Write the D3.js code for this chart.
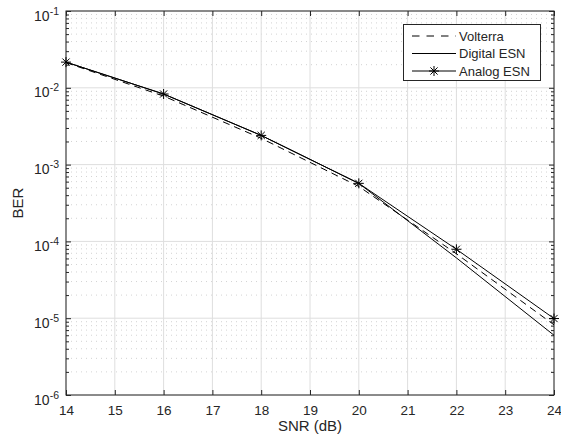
<!DOCTYPE html>
<html>
<head>
<meta charset="utf-8">
<script src="https://cdn.jsdelivr.net/npm/d3@7"></script>
<style>
  body { margin: 0; background: #fff; }
  text { font-family: "Liberation Sans", Arial, sans-serif; fill: #262626; }
</style>
</head>
<body>
<div id="app"></div>
<script>
const snr = [14, 16, 18, 20, 22, 24];
const volterra = [0.0213, 0.0078, 0.0022, 0.00052, 0.000069, 0.0000082];
const digitalEsn = [0.0216, 0.0083, 0.0024, 0.00057, 0.000061, 0.000006];
const analogEsn = [0.0216, 0.0083, 0.0024, 0.00057, 0.000079, 0.0000099];
const xTicks = [14, 15, 16, 17, 18, 19, 20, 21, 22, 23, 24];
const yExponents = [-1, -2, -3, -4, -5, -6];
const seriesNames = ["Volterra", "Digital ESN", "Analog ESN"];

const width = 561;
const height = 442;
const margin = { top: 11, right: 7, bottom: 47, left: 66 };
const axisColor = "#262626";

const svg = d3.select("#app").append("svg")
  .attr("width", width)
  .attr("height", height);

const x = d3.scaleLinear().domain([14, 24]).range([margin.left, width - margin.right]);
const y = d3.scaleLog().domain([1e-6, 1e-1]).range([height - margin.bottom, margin.top]);

const minorVals = [];
for (let e = -6; e < -1; e++) {
  for (let m = 2; m <= 9; m++) minorVals.push(m * Math.pow(10, e));
}
const majorVals = yExponents.map((e) => Math.pow(10, e));

// grid
const grid = svg.append("g");
grid.selectAll(".minor").data(minorVals).enter().append("line")
  .attr("x1", margin.left).attr("x2", width - margin.right)
  .attr("y1", (d) => y(d)).attr("y2", (d) => y(d))
  .attr("stroke", "#c8c8c8").attr("stroke-width", 0.8)
  .attr("stroke-dasharray", "1,4");
grid.selectAll(".majy").data(majorVals).enter().append("line")
  .attr("x1", margin.left).attr("x2", width - margin.right)
  .attr("y1", (d) => y(d)).attr("y2", (d) => y(d))
  .attr("stroke", "#dedede").attr("stroke-width", 1);
grid.selectAll(".majx").data(xTicks).enter().append("line")
  .attr("x1", (d) => x(d)).attr("x2", (d) => x(d))
  .attr("y1", margin.top).attr("y2", height - margin.bottom)
  .attr("stroke", "#dedede").attr("stroke-width", 1);

// axes with inward ticks
const bottom = height - margin.bottom;
const right = width - margin.right;
svg.append("g").attr("transform", `translate(0,${bottom})`)
  .call(d3.axisBottom(x).tickValues(xTicks).tickSizeInner(-5).tickSizeOuter(0).tickPadding(10))
  .call((g) => g.select(".domain").remove())
  .call((g) => g.selectAll("line").attr("stroke", axisColor))
  .call((g) => g.selectAll("text").attr("font-size", 13.5).attr("fill", axisColor)
    .style("font-family", "Liberation Sans, Arial, sans-serif"));
svg.append("g").attr("transform", `translate(0,${margin.top})`)
  .call(d3.axisTop(x).tickValues(xTicks).tickSizeInner(-5).tickSizeOuter(0).tickFormat(""))
  .call((g) => g.select(".domain").remove())
  .call((g) => g.selectAll("line").attr("stroke", axisColor));

const yLeft = svg.append("g").attr("transform", `translate(${margin.left},0)`);
yLeft.call(d3.axisLeft(y).tickValues(majorVals).tickSizeInner(-5).tickSizeOuter(0).tickFormat(""))
  .call((g) => g.select(".domain").remove())
  .call((g) => g.selectAll("line").attr("stroke", axisColor));
yLeft.append("g").call(d3.axisLeft(y).tickValues(minorVals).tickSizeInner(-3).tickSizeOuter(0).tickFormat(""))
  .call((g) => g.select(".domain").remove())
  .call((g) => g.selectAll("line").attr("stroke", axisColor));
const yRight = svg.append("g").attr("transform", `translate(${right},0)`);
yRight.call(d3.axisRight(y).tickValues(majorVals).tickSizeInner(-5).tickSizeOuter(0).tickFormat(""))
  .call((g) => g.select(".domain").remove())
  .call((g) => g.selectAll("line").attr("stroke", axisColor));
yRight.append("g").call(d3.axisRight(y).tickValues(minorVals).tickSizeInner(-3).tickSizeOuter(0).tickFormat(""))
  .call((g) => g.select(".domain").remove())
  .call((g) => g.selectAll("line").attr("stroke", axisColor));

// y labels 10^e
const ylab = svg.append("g").selectAll("text").data(yExponents).enter().append("text")
  .attr("x", margin.left - 7)
  .attr("y", (d) => y(Math.pow(10, d)) + 9.5)
  .attr("text-anchor", "end")
  .attr("font-size", 14);
ylab.append("tspan").text("10");
ylab.append("tspan").text((d) => "-" + Math.abs(d)).attr("font-size", 10.5).attr("dy", -6);

// box
svg.append("rect")
  .attr("x", margin.left).attr("y", margin.top)
  .attr("width", right - margin.left).attr("height", bottom - margin.top)
  .attr("fill", "none").attr("stroke", axisColor).attr("stroke-width", 1);

// axis titles
svg.append("text").text("SNR (dB)")
  .attr("x", (margin.left + right) / 2).attr("y", 431)
  .attr("text-anchor", "middle").attr("font-size", 15);
svg.append("text").text("BER")
  .attr("transform", `translate(23,${(margin.top + bottom) / 2}) rotate(-90)`)
  .attr("text-anchor", "middle").attr("font-size", 15);

// lines
const line = d3.line().x((d) => x(d[0])).y((d) => y(d[1]));
const zip = (vals) => snr.map((s, i) => [s, vals[i]]);
const plot = svg.append("g");
plot.append("path").datum(zip(volterra)).attr("d", line)
  .attr("fill", "none").attr("stroke", "#000").attr("stroke-width", 1)
  .attr("stroke-dasharray", "7,5");
plot.append("path").datum(zip(digitalEsn)).attr("d", line)
  .attr("fill", "none").attr("stroke", "#000").attr("stroke-width", 1);
plot.append("path").datum(zip(analogEsn)).attr("d", line)
  .attr("fill", "none").attr("stroke", "#000").attr("stroke-width", 1);

const star = (g, cx, cy, r) => {
  const path = d3.path();
  path.moveTo(cx - r, cy); path.lineTo(cx + r, cy);
  path.moveTo(cx, cy - r); path.lineTo(cx, cy + r);
  const q = r * 0.72;
  path.moveTo(cx - q, cy - q); path.lineTo(cx + q, cy + q);
  path.moveTo(cx - q, cy + q); path.lineTo(cx + q, cy - q);
  g.append("path").attr("d", path.toString())
    .attr("stroke", "#000").attr("stroke-width", 1).attr("fill", "none");
};
zip(analogEsn).forEach((d) => star(plot, x(d[0]), y(d[1]), 5));

// legend
const lg = svg.append("g");
lg.append("rect").attr("x", 403.5).attr("y", 24.5).attr("width", 137).attr("height", 56)
  .attr("fill", "#fff").attr("stroke", axisColor).attr("stroke-width", 1);
const rows = [36, 53.5, 71];
seriesNames.forEach((name, i) => {
  const ln = lg.append("line").attr("x1", 412).attr("x2", 456)
    .attr("y1", rows[i]).attr("y2", rows[i]).attr("stroke", "#000").attr("stroke-width", 1);
  if (i === 0) ln.attr("stroke-dasharray", "7.5,7");
  if (i === 2) star(lg, 434, rows[i], 5);
  lg.append("text").text(name).attr("x", 459).attr("y", rows[i] + 4.5).attr("font-size", 13);
});
</script>
</body>
</html>
